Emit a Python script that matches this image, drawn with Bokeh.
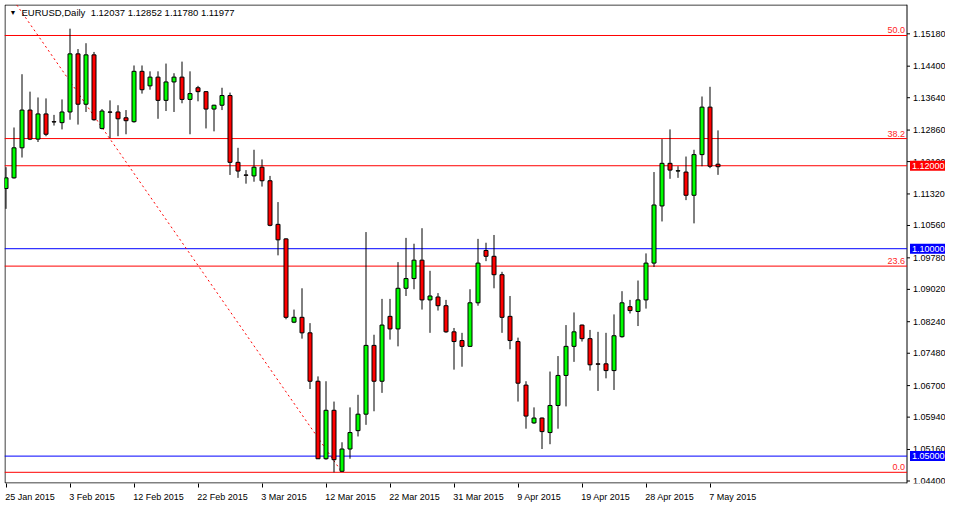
from bokeh.plotting import figure
from bokeh.models import ColumnDataSource, FixedTicker, Label, Range1d
from bokeh.core.properties import value
from bokeh.embed import file_html
from bokeh.resources import INLINE

# ---------------- data ----------------
symbol = "EURUSD,Daily"
header_ohlc = ["1.12037", "1.12852", "1.11780", "1.11977"]

tick_bars = [0, 8, 16, 24, 32, 40, 48, 56, 64, 72, 80, 88]
tick_labels = ["25 Jan 2015", "3 Feb 2015", "12 Feb 2015", "22 Feb 2015", "3 Mar 2015",
               "12 Mar 2015", "22 Mar 2015", "31 Mar 2015", "9 Apr 2015", "19 Apr 2015",
               "28 Apr 2015", "7 May 2015"]

opens = [1.11451, 1.11708, 1.12432, 1.13342, 1.12642, 1.13249, 1.13062, 1.13039, 1.13296, 1.14697,
         1.13483, 1.14673, 1.12899, 1.13296, 1.13296, 1.13156, 1.13062, 1.14276, 1.13926, 1.14136,
         1.13576, 1.14020, 1.14136, 1.13599, 1.13880, 1.13786, 1.13366, 1.13459, 1.13693, 1.12082,
         1.11778, 1.11755, 1.11965, 1.11638, 1.10587, 1.10237, 1.08229, 1.08346, 1.07972, 1.06805,
         1.04937, 1.06105, 1.04634, 1.05171, 1.05614, 1.06011, 1.07669, 1.06805, 1.08369, 1.08066,
         1.09046, 1.09280, 1.09724, 1.08766, 1.08836, 1.08626, 1.07996, 1.07786, 1.07646, 1.08696,
         1.09957, 1.09817, 1.09373, 1.08369, 1.07762, 1.06712, 1.05801, 1.05918, 1.05568, 1.06221,
         1.06945, 1.07646, 1.08159, 1.07832, 1.07225, 1.07225, 1.07062, 1.07879, 1.08603, 1.08486,
         1.08766, 1.09653, 1.11031, 1.12058, 1.11872, 1.11848, 1.11288, 1.12268, 1.13413, 1.12037]
highs = [1.11965, 1.12922, 1.14206, 1.13786, 1.13646, 1.13623, 1.13226, 1.13599, 1.15304, 1.14813,
         1.14954, 1.14743, 1.13366, 1.13576, 1.13459, 1.13342, 1.14417, 1.14417, 1.14276, 1.14276,
         1.14463, 1.14230, 1.14510, 1.14276, 1.13926, 1.13800, 1.13470, 1.13880, 1.13763, 1.12432,
         1.11895, 1.12385, 1.12152, 1.11755, 1.11124, 1.10250, 1.08533, 1.09046, 1.08206, 1.06922,
         1.06805, 1.06315, 1.05334, 1.06175, 1.06478, 1.10401, 1.07926, 1.08790, 1.08790, 1.09677,
         1.10261, 1.10120, 1.10494, 1.09467, 1.08930, 1.08766, 1.08089, 1.07972, 1.09023, 1.10237,
         1.10144, 1.10331, 1.09443, 1.08860, 1.07856, 1.06805, 1.06175, 1.05930, 1.07039, 1.07412,
         1.08159, 1.08463, 1.08170, 1.08042, 1.07996, 1.07972, 1.08416, 1.08976, 1.08766, 1.09233,
         1.09887, 1.11848, 1.12642, 1.12876, 1.11988, 1.12222, 1.12385, 1.13669, 1.13903, 1.12852]
lows = [1.10961, 1.11690, 1.12198, 1.12619, 1.12572, 1.12712, 1.12969, 1.12876, 1.13109, 1.12992,
        1.13296, 1.13086, 1.12876, 1.12665, 1.12712, 1.12759, 1.13039, 1.13739, 1.13833, 1.13132,
        1.13319, 1.13296, 1.13506, 1.12759, 1.13553, 1.12899, 1.12829, 1.13342, 1.11778, 1.11708,
        1.11568, 1.11615, 1.11498, 1.10541, 1.09840, 1.08299, 1.08206, 1.07832, 1.06618, 1.04930,
        1.04914, 1.04610, 1.04620, 1.04937, 1.05474, 1.05754, 1.06081, 1.06525, 1.07809, 1.07646,
        1.08860, 1.09023, 1.08533, 1.07972, 1.08509, 1.07972, 1.07085, 1.07155, 1.07630, 1.08626,
        1.09700, 1.09046, 1.07972, 1.07576, 1.06315, 1.05661, 1.05778, 1.05171, 1.05287, 1.05661,
        1.06198, 1.07272, 1.07762, 1.07062, 1.06572, 1.06875, 1.06595, 1.07856, 1.08439, 1.08136,
        1.08556, 1.09560, 1.10657, 1.11685, 1.11708, 1.11171, 1.10611, 1.11988, 1.11942, 1.11780]
closes = [1.11708, 1.12432, 1.13342, 1.12642, 1.13249, 1.12759, 1.13055, 1.13296, 1.14697, 1.13483,
          1.14673, 1.13109, 1.13319, 1.13290, 1.13132, 1.13086, 1.14276, 1.13833, 1.14136, 1.13576,
          1.14020, 1.14136, 1.13599, 1.13739, 1.13786, 1.13366, 1.13459, 1.13693, 1.12082, 1.11872,
          1.11770, 1.11965, 1.11638, 1.10564, 1.10214, 1.08346, 1.08346, 1.07972, 1.06805, 1.04937,
          1.06105, 1.04914, 1.05171, 1.05568, 1.06011, 1.07669, 1.06805, 1.08159, 1.08066, 1.09046,
          1.09280, 1.09724, 1.08766, 1.08860, 1.08626, 1.07996, 1.07762, 1.07646, 1.08696, 1.09653,
          1.09817, 1.09373, 1.08346, 1.07786, 1.06758, 1.05965, 1.05918, 1.05591, 1.06221, 1.06945,
          1.07646, 1.07996, 1.07832, 1.07202, 1.07215, 1.07062, 1.07902, 1.08696, 1.08509, 1.08766,
          1.09653, 1.11054, 1.12058, 1.11895, 1.11880, 1.11288, 1.12268, 1.13413, 1.11988, 1.11977]

price_ticks = [1.15180, 1.14400, 1.13640, 1.12860, 1.12100, 1.11320, 1.10560, 1.09780,
               1.09020, 1.08240, 1.07480, 1.06700, 1.05940, 1.05160, 1.04400]

hline_prices = [1.12000, 1.10000, 1.05000]
hline_labels = ["1.12000", "1.10000", "1.05000"]
hline_colors = ["#FF0000", "#0000FF", "#0000FF"]

fib_low = 1.0461
fib_high = 1.2567
fib_anchor_bars = [-34, 42]
fib_levels = [0.0, 23.6, 38.2, 50.0]
fib_level_labels = ["0.0", "23.6", "38.2", "50.0"]

# ---------------- layout ----------------
W, H = 945, 504
FL, FT = 4, 4              # frame left / top (px); frame runs to the right edge
FB = 488                   # frame bottom (px)
SCALE_X = 906              # px of the price-scale line (chart area right edge)
BAR_PX = 8.0
BAR0_X = 5.5               # px of bar 0 centre
Y_TOP, Y_BOT = 1.15887, 1.04340   # prices at frame top / bottom

x_start = (FL - BAR0_X) / BAR_PX
x_end = x_start + (W - FL) / BAR_PX
KP = (Y_TOP - Y_BOT) / (FB - FT)

def px_to_x(px):
    return x_start + (px - FL) / BAR_PX

def row_to_price(r):
    return Y_TOP - (r - FT) * KP

x_scale = px_to_x(SCALE_X + 0.5)
FONT = "Liberation Sans"
FS = 9.0
# Liberation Sans advance widths (per 1000 em), used to left-align the date labels
ADV = {" ": 278, "J": 500, "F": 611, "M": 833, "A": 667, "a": 556, "n": 556, "e": 556,
       "b": 556, "r": 333, "p": 556, "y": 500}
def text_w(s):
    return sum(ADV.get(ch, 556) for ch in s) / 1000.0 * FS

label_pos = [round(b + text_w(t) / 2.0 / BAR_PX - 0.1, 4) for b, t in zip(tick_bars, tick_labels)]

p = figure(width=W, height=H, x_range=Range1d(x_start, x_end), y_range=Range1d(Y_BOT, Y_TOP),
           y_axis_location=None, output_backend="svg", toolbar_location=None,
           min_border_left=FL, min_border_top=FT, min_border_right=0,
           min_border_bottom=H - FB)
p.xgrid.visible = False
p.ygrid.visible = False
p.outline_line_color = None
p.background_fill_color = "white"
p.border_fill_color = "white"

# date axis: labels start at their date tick; the date ticks are drawn as minor ticks
xa = p.xaxis[0]
xa.ticker = FixedTicker(ticks=label_pos, minor_ticks=tick_bars)
xa.major_label_overrides = {pos: lab for pos, lab in zip(label_pos, tick_labels)}
xa.major_tick_out = 0
xa.major_tick_in = 0
xa.minor_tick_out = 4
xa.minor_tick_in = 0
xa.minor_tick_line_color = "black"
xa.axis_line_color = None
xa.major_label_text_font = FONT
xa.major_label_text_font_size = "9px"
xa.major_label_text_color = "black"
xa.major_label_standoff = 4

# chart border (left, top, bottom) and price-scale line
y_top_line = row_to_price(FT + 0.5)
y_bot_line = row_to_price(FB - 0.5)
x_left_line = px_to_x(FL + 0.5)
p.segment(x0=[x_left_line, x_left_line, x_left_line],
          y0=[y_bot_line, y_top_line, y_bot_line],
          x1=[x_left_line, x_scale, x_scale],
          y1=[y_top_line, y_top_line, y_bot_line],
          line_color="black", line_width=1)
p.segment(x0=[x_scale], y0=[Y_BOT], x1=[x_scale], y1=[Y_TOP], line_color="black", line_width=1)

# price scale: tick marks and labels from price_ticks through the y scale
tick_src = ColumnDataSource(dict(y=price_ticks, t=["%.5f" % v for v in price_ticks],
                                 x0=[x_scale] * len(price_ticks),
                                 x1=[x_scale + 3.0 / BAR_PX] * len(price_ticks)))
p.segment(x0="x0", y0="y", x1="x1", y1="y", source=tick_src, line_color="black", line_width=1)
p.text(x="x0", y="y", text="t", source=tick_src, x_offset=6, text_align="left",
       text_baseline="middle", text_font=value(FONT), text_font_size="9px", text_color="black")

# horizontal lines
for pr, col in zip(hline_prices, hline_colors):
    p.segment(x0=[x_start], y0=[pr], x1=[x_scale], y1=[pr], line_color=col, line_width=1)

# fibonacci levels
fib_prices = [fib_low + lv / 100.0 * (fib_high - fib_low) for lv in fib_levels]
p.segment(x0=[x_start] * len(fib_prices), y0=fib_prices, x1=[x_scale] * len(fib_prices),
          y1=fib_prices, line_color="#FF0000", line_width=1)
for pr, lab in zip(fib_prices, fib_level_labels):
    p.add_layout(Label(x=x_scale, y=pr, x_offset=-2, y_offset=2, text=lab, text_align="right",
                       text_baseline="bottom", text_font=FONT, text_font_size="9px",
                       text_color="#FF1E1E"))

# fib trend line
p.line(x=fib_anchor_bars, y=[fib_high, fib_low], line_color="#FF0000", line_width=1,
       line_dash="2 3")

# candles
idx = list(range(len(opens)))
tops = [max(o, c) for o, c in zip(opens, closes)]
bots = [min(o, c) for o, c in zip(opens, closes)]
cols = ["#00FF00" if c > o else "#FF0000" for o, c in zip(opens, closes)]
src = ColumnDataSource(dict(x=idx, h=highs, l=lows, top=tops, bot=bots, col=cols))
p.segment(x0="x", y0="h", x1="x", y1="l", source=src, line_color="black", line_width=1)
p.vbar(x="x", width=0.5, top="top", bottom="bot", source=src, fill_color="col",
       line_color="black", line_width=1)

# highlighted price labels on the scale
for pr, lab, col in zip(hline_prices, hline_labels, hline_colors):
    p.add_layout(Label(x=x_scale, y=pr, x_offset=3, text=lab, text_align="left",
                       text_baseline="middle", text_font=FONT, text_font_size="9px",
                       text_color="white", background_fill_color=col, padding=2))

# header
p.add_layout(Label(x=px_to_x(9), y=row_to_price(12.5), text="\u25BC", text_align="left",
                   text_baseline="middle", text_font=FONT, text_font_size="7px", text_color="black"))
p.add_layout(Label(x=px_to_x(21), y=row_to_price(12.5),
                   text=symbol + "\u00A0 " + " ".join(header_ohlc), text_align="left",
                   text_baseline="middle", text_font=FONT, text_font_size="9.5px",
                   text_color="black"))

open("out.html", "w").write(file_html(p, INLINE))
